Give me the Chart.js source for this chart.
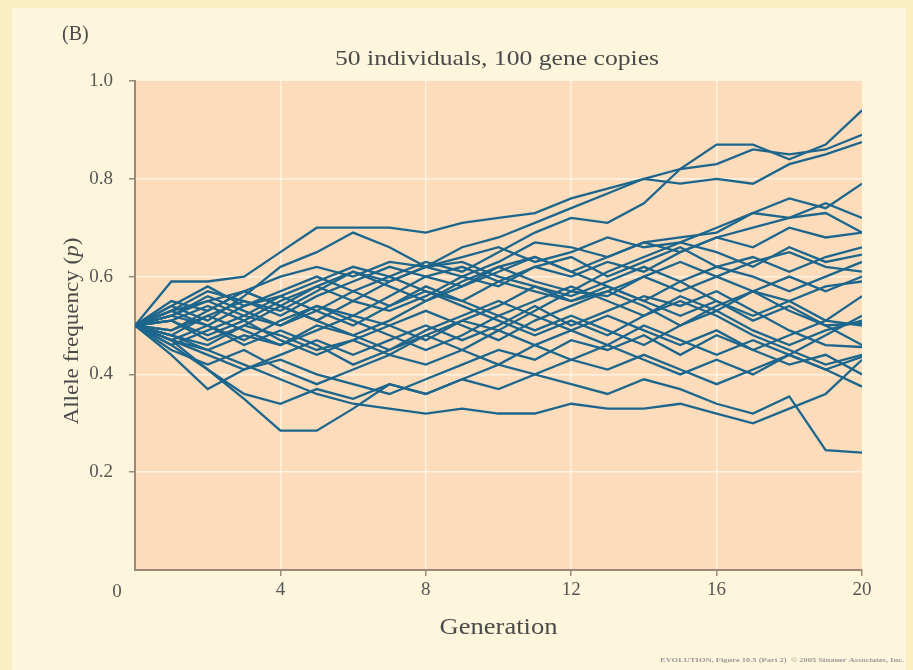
<!DOCTYPE html>
<html>
<head>
<meta charset="utf-8">
<script src="https://cdn.jsdelivr.net/npm/chart.js@4.4.1/dist/chart.umd.min.js"></script>
<style>
  html, body { margin: 0; padding: 0; background: #fbeec0; }
  #wrap { width: 913px; height: 670px; position: relative; }
</style>
</head>
<body>
<div id="wrap"><canvas id="myChart" width="913" height="670"></canvas></div>
<script>
'use strict';

// generation numbers (x axis)
const generations = [0, 1, 2, 3, 4, 5, 6, 7, 8, 9, 10, 11, 12, 13, 14, 15, 16, 17, 18, 19, 20];
const xTicks = [0, 4, 8, 12, 16, 20];
const yTicks = [0.2, 0.4, 0.6, 0.8, 1.0];

// allele frequency of each simulated population
const run1 = [0.50, 0.53, 0.55, 0.57, 0.60, 0.62, 0.60, 0.63, 0.62, 0.66, 0.68, 0.71, 0.74, 0.77, 0.80, 0.82, 0.87, 0.87, 0.84, 0.87, 0.94];
const run2 = [0.50, 0.52, 0.50, 0.54, 0.56, 0.59, 0.62, 0.60, 0.63, 0.61, 0.65, 0.69, 0.72, 0.71, 0.75, 0.82, 0.83, 0.86, 0.85, 0.86, 0.89];
const run3 = [0.50, 0.59, 0.59, 0.60, 0.65, 0.70, 0.70, 0.70, 0.69, 0.71, 0.72, 0.73, 0.76, 0.78, 0.80, 0.79, 0.80, 0.79, 0.83, 0.85, 0.875];
const run4 = [0.50, 0.48, 0.52, 0.55, 0.53, 0.57, 0.61, 0.59, 0.62, 0.60, 0.63, 0.67, 0.66, 0.64, 0.67, 0.68, 0.69, 0.73, 0.76, 0.74, 0.79];
const run5 = [0.50, 0.54, 0.51, 0.56, 0.62, 0.65, 0.69, 0.66, 0.62, 0.64, 0.66, 0.63, 0.65, 0.68, 0.66, 0.67, 0.70, 0.73, 0.72, 0.75, 0.72];
const run6 = [0.50, 0.46, 0.49, 0.52, 0.50, 0.54, 0.52, 0.56, 0.60, 0.58, 0.62, 0.64, 0.61, 0.64, 0.67, 0.65, 0.68, 0.66, 0.70, 0.68, 0.69];
const run7 = [0.50, 0.51, 0.47, 0.50, 0.54, 0.51, 0.55, 0.53, 0.56, 0.60, 0.58, 0.62, 0.60, 0.63, 0.61, 0.65, 0.68, 0.70, 0.72, 0.73, 0.69];
const run8 = [0.50, 0.53, 0.57, 0.55, 0.52, 0.56, 0.59, 0.62, 0.60, 0.62, 0.59, 0.62, 0.64, 0.60, 0.63, 0.66, 0.62, 0.64, 0.61, 0.64, 0.66];
const run9 = [0.50, 0.47, 0.45, 0.48, 0.46, 0.50, 0.48, 0.51, 0.55, 0.59, 0.62, 0.59, 0.57, 0.61, 0.64, 0.67, 0.65, 0.62, 0.66, 0.63, 0.645];
const run10 = [0.50, 0.52, 0.55, 0.52, 0.56, 0.53, 0.50, 0.54, 0.57, 0.55, 0.59, 0.57, 0.55, 0.58, 0.55, 0.59, 0.62, 0.60, 0.57, 0.60, 0.63];
const run11 = [0.50, 0.49, 0.52, 0.49, 0.46, 0.49, 0.52, 0.50, 0.47, 0.51, 0.49, 0.53, 0.57, 0.56, 0.60, 0.57, 0.60, 0.63, 0.65, 0.62, 0.61];
const run12 = [0.50, 0.54, 0.58, 0.54, 0.57, 0.60, 0.57, 0.54, 0.58, 0.55, 0.52, 0.55, 0.58, 0.55, 0.52, 0.56, 0.53, 0.57, 0.55, 0.58, 0.59];
const run13 = [0.50, 0.51, 0.48, 0.51, 0.55, 0.58, 0.55, 0.59, 0.62, 0.63, 0.60, 0.58, 0.56, 0.59, 0.62, 0.59, 0.55, 0.52, 0.55, 0.51, 0.56];
const run14 = [0.50, 0.48, 0.46, 0.50, 0.48, 0.45, 0.47, 0.50, 0.53, 0.50, 0.47, 0.51, 0.54, 0.57, 0.54, 0.50, 0.53, 0.49, 0.46, 0.49, 0.51];
const run15 = [0.50, 0.53, 0.50, 0.47, 0.51, 0.54, 0.51, 0.48, 0.45, 0.48, 0.52, 0.49, 0.52, 0.49, 0.46, 0.50, 0.54, 0.57, 0.53, 0.50, 0.505];
const run16 = [0.50, 0.47, 0.44, 0.41, 0.44, 0.47, 0.44, 0.47, 0.50, 0.47, 0.50, 0.54, 0.50, 0.53, 0.56, 0.54, 0.57, 0.53, 0.49, 0.46, 0.456];
const run17 = [0.50, 0.45, 0.42, 0.45, 0.41, 0.38, 0.41, 0.44, 0.42, 0.45, 0.49, 0.46, 0.43, 0.46, 0.50, 0.47, 0.44, 0.47, 0.44, 0.41, 0.436];
const run18 = [0.50, 0.44, 0.37, 0.41, 0.43, 0.40, 0.38, 0.36, 0.39, 0.42, 0.45, 0.43, 0.47, 0.45, 0.48, 0.44, 0.48, 0.45, 0.42, 0.44, 0.40];
const run19 = [0.50, 0.46, 0.41, 0.36, 0.34, 0.37, 0.35, 0.38, 0.36, 0.39, 0.42, 0.40, 0.43, 0.41, 0.44, 0.41, 0.38, 0.41, 0.44, 0.41, 0.375];
const run20 = [0.50, 0.47, 0.41, 0.35, 0.285, 0.285, 0.33, 0.38, 0.36, 0.39, 0.37, 0.40, 0.38, 0.36, 0.39, 0.37, 0.34, 0.32, 0.355, 0.245, 0.24];
const run21 = [0.50, 0.48, 0.45, 0.42, 0.39, 0.36, 0.34, 0.33, 0.32, 0.33, 0.32, 0.32, 0.34, 0.33, 0.33, 0.34, 0.32, 0.30, 0.33, 0.36, 0.43];
const run22 = [0.50, 0.55, 0.53, 0.57, 0.54, 0.51, 0.48, 0.45, 0.49, 0.52, 0.55, 0.52, 0.49, 0.46, 0.43, 0.40, 0.43, 0.40, 0.44, 0.48, 0.52];
const run23 = [0.50, 0.52, 0.56, 0.53, 0.50, 0.53, 0.57, 0.60, 0.57, 0.54, 0.51, 0.48, 0.51, 0.48, 0.52, 0.55, 0.52, 0.48, 0.45, 0.42, 0.44];
const run24 = [0.50, 0.49, 0.53, 0.57, 0.54, 0.58, 0.61, 0.58, 0.55, 0.58, 0.61, 0.64, 0.61, 0.58, 0.55, 0.52, 0.55, 0.51, 0.54, 0.50, 0.46];
const run25 = [0.50, 0.51, 0.54, 0.51, 0.47, 0.44, 0.47, 0.44, 0.48, 0.51, 0.54, 0.58, 0.55, 0.57, 0.60, 0.63, 0.60, 0.57, 0.60, 0.57, 0.60];
const run26 = [0.50, 0.47, 0.50, 0.46, 0.49, 0.46, 0.42, 0.45, 0.48, 0.45, 0.42, 0.46, 0.49, 0.52, 0.49, 0.46, 0.49, 0.45, 0.48, 0.51, 0.50];

const runs = [run1, run2, run3, run4, run5, run6, run7, run8, run9, run10, run11, run12, run13,
  run14, run15, run16, run17, run18, run19, run20, run21, run22, run23, run24, run25, run26];

const lineColor = '#1c668d';
const serif = '"Liberation Serif", "Times New Roman", serif';

// draws text stretched to the width it has in the figure
function fitText(ctx, parts, x, y, width, rotate) {
  let natural = 0;
  for (let p of parts) {
    ctx.font = p.font;
    natural += ctx.measureText(p.text).width;
  }
  ctx.save();
  ctx.translate(x, y);
  if (rotate) ctx.rotate(-Math.PI / 2);
  ctx.scale(width / natural, 1);
  ctx.textAlign = 'left';
  ctx.textBaseline = 'alphabetic';
  let cx = -natural / 2;
  for (let p of parts) {
    ctx.font = p.font;
    ctx.fillText(p.text, cx, 0);
    cx += ctx.measureText(p.text).width;
  }
  ctx.restore();
}

const backdrop = {
  id: 'backdrop',
  beforeDraw(chart) {
    const ctx = chart.ctx;
    const a = chart.chartArea;
    ctx.save();
    ctx.fillStyle = '#fbeec0';
    ctx.fillRect(0, 0, chart.width, chart.height);
    ctx.fillStyle = '#fef6dc';
    ctx.fillRect(12, 8, 894, 662);
    ctx.fillStyle = '#fcdcbb';
    ctx.fillRect(a.left, a.top, a.right - a.left, a.bottom - a.top);
    ctx.restore();
  },
  afterDraw(chart) {
    const ctx = chart.ctx;
    const x = chart.scales.x;
    ctx.save();
    ctx.fillStyle = '#4a4a4a';
    ctx.font = '20px ' + serif;
    ctx.textAlign = 'left';
    ctx.fillText('(B)', 62, 40);

    fitText(ctx, [{text: '50 individuals, 100 gene copies', font: '22px ' + serif}], 497, 65, 324);
    fitText(ctx, [{text: 'Generation', font: '23px ' + serif}], (x.left + x.right) / 2, 634, 118);
    fitText(ctx, [
      {text: 'Allele frequency (', font: '21px ' + serif},
      {text: 'p', font: 'italic 21px ' + serif},
      {text: ')', font: '21px ' + serif}
    ], 78, 331, 187, true);

    ctx.fillStyle = '#555';
    ctx.font = '19px ' + serif;
    ctx.textAlign = 'center';
    ctx.fillText('0', x.getPixelForValue(0) - 18, 597);

    ctx.fillStyle = '#999';
    fitText(ctx, [{text: 'EVOLUTION, Figure 10.5 (Part 2)  \u00a9 2005 Sinauer Associates, Inc.', font: 'bold 7px ' + serif}],
      782, 662, 244);
    ctx.restore();
  }
};

new Chart(document.getElementById('myChart').getContext('2d'), {
  type: 'line',
  data: {
    datasets: runs.map(function(run) {
      return {
        data: run.map(function(v, i) { return {x: generations[i], y: v}; }),
        borderColor: lineColor,
        borderWidth: 2.3,
        pointRadius: 0,
        tension: 0,
        fill: false,
      };
    })
  },
  options: {
    responsive: false,
    animation: false,
    events: [],
    layout: {padding: {top: 81, right: 51, left: 0, bottom: 0}},
    plugins: {legend: {display: false}, tooltip: {enabled: false}, title: {display: false}},
    scales: {
      x: {
        type: 'linear',
        min: 0,
        max: 20,
        afterFit: function(scale) { scale.height = 100; },
        afterBuildTicks: function(scale) { scale.ticks = xTicks.map(function(v) { return {value: v}; }); },
        ticks: {
          color: '#555',
          font: {family: serif, size: 19},
          padding: 3,
          callback: function(v) { return v === 0 ? '' : v; }
        },
        grid: {
          color: function(c) { return (c.tick && (c.tick.value === 0 || c.tick.value === 20)) ? 'rgba(0,0,0,0)' : 'rgba(255,246,232,0.85)'; },
          tickColor: function(c) { return (c.tick && c.tick.value === 0) ? 'rgba(0,0,0,0)' : '#9c8a78'; },
          lineWidth: 1.5,
          tickLength: 6,
        },
        border: {color: '#9c8a78', width: 2},
      },
      y: {
        min: 0,
        max: 1,
        afterFit: function(scale) { scale.width = 135; },
        afterBuildTicks: function(scale) { scale.ticks = [0].concat(yTicks).map(function(v) { return {value: v}; }); },
        ticks: {
          color: '#555',
          font: {family: serif, size: 19},
          padding: 16,
          callback: function(v) { return v === 0 ? '' : v.toFixed(1); }
        },
        grid: {
          color: function(c) { return (c.tick && (c.tick.value === 0 || c.tick.value === 1)) ? 'rgba(0,0,0,0)' : 'rgba(255,246,232,0.85)'; },
          tickColor: function(c) { return (c.tick && c.tick.value === 0) ? 'rgba(0,0,0,0)' : '#9c8a78'; },
          lineWidth: 1.5,
          tickLength: 6,
        },
        border: {color: '#9c8a78', width: 2},
      }
    }
  },
  plugins: [backdrop]
});
</script>
</body>
</html>
